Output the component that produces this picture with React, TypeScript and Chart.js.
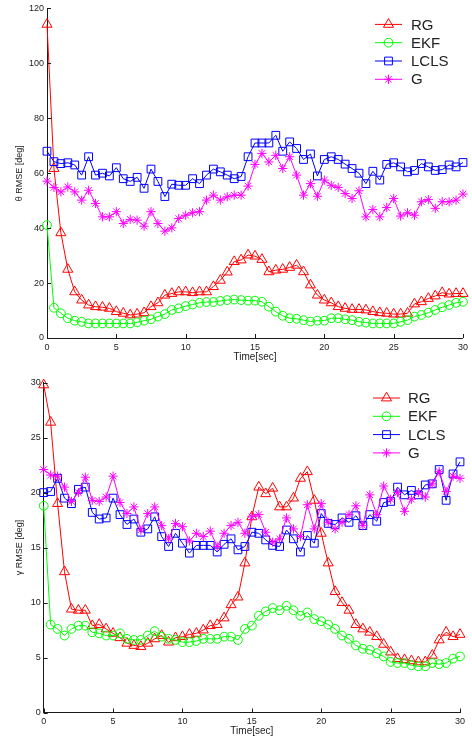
import React, { useEffect, useRef } from "react";
import { Chart, registerables } from "chart.js";
import { drawPoint } from "chart.js/helpers";

Chart.register(...registerables);

const times = [
  0, 0.5, 1, 1.5, 2, 2.5, 3, 3.5, 4, 4.5, 5, 5.5, 6, 6.5, 7, 7.5, 8, 8.5, 9, 9.5,
  10, 10.5, 11, 11.5, 12, 12.5, 13, 13.5, 14, 14.5, 15, 15.5, 16, 16.5, 17, 17.5, 18, 18.5, 19, 19.5,
  20, 20.5, 21, 21.5, 22, 22.5, 23, 23.5, 24, 24.5, 25, 25.5, 26, 26.5, 27, 27.5, 28, 28.5, 29, 29.5, 30,
];

const seriesNames = ["RG", "EKF", "LCLS", "G"];

// theta RMSE [deg]
const thetaRG = [
  114.2, 61.7, 38.3, 25, 16.8, 13.8, 12, 11.4, 11.2, 10.8,
  9.6, 9, 8.4, 8.7, 9.2, 11.4, 12.8, 15.6, 16.2, 16.8,
  16.8, 16.5, 16.8, 16.8, 18.7, 21, 24, 27.8, 28.4, 30.2,
  29.8, 28.6, 24.1, 24.7, 25, 25.7, 26.5, 24.1, 19.3, 15.6,
  13.8, 12.8, 11.4, 10.8, 10.4, 10.4, 10.2, 9.6, 9.2, 9,
  8.7, 8.7, 9, 12.4, 13.2, 14.4, 15.3, 16.5, 16, 16.2,
  16.2,
];
const thetaEKF = [
  41.1, 11, 9, 7.2, 6.3, 5.9, 5.3, 5.3, 5.3, 5.3,
  5.3, 5.3, 5.3, 5.7, 6.3, 6.8, 7.8, 8.7, 10.2, 10.8,
  11.6, 12.2, 12.8, 13.1, 13.1, 13.5, 13.8, 14, 13.8, 13.6,
  13.6, 13.2, 11.4, 9.6, 8.1, 7.2, 7.0, 6.5, 6.0, 6.3,
  6.3, 7.2, 7.2, 6.8, 6.5, 5.9, 5.6, 5.3, 5.3, 5.3,
  5.3, 5.9, 6.5, 7.8, 8.4, 9.2, 10.2, 11.2, 12, 12.8,
  13.2,
];
const thetaLCLS = [
  68, 64.2, 63.5, 63.8, 63, 59.3, 66, 59.3, 60, 59,
  62, 58, 57, 58.5, 54.5, 61.5, 57, 51.5, 56, 55.6,
  55.6, 58, 56.2, 59.3, 61.5, 60.5, 59.3, 58, 58.8, 66,
  71, 71, 71, 73.8, 68, 71.4, 69, 65, 67, 59,
  65, 66, 65, 63.3, 61.7, 60, 56.2, 60.7, 57.5, 63.2,
  63.8, 62.3, 60.5, 61, 63.5, 62.3, 61, 61.3, 63, 62.3,
  63.9,
];
const thetaG = [
  57.1, 54.8, 53.2, 55, 53.2, 50.2, 53.8, 49, 44.1, 44.1,
  46, 41.7, 43.2, 42.9, 40.7, 46, 41.7, 38.9, 40.1, 43.5,
  44.7, 45.6, 46, 50.2, 52, 50.2, 51.4, 52, 52, 55.3,
  63.2, 67.2, 64.1, 66.5, 61.7, 66, 59.3, 52, 56.2, 51.6,
  57.5, 55.6, 54.8, 52.6, 50.8, 53.6, 44.1, 46.8, 44.1, 47.5,
  50.8, 44.4, 45.6, 44.7, 49.6, 50.4, 47.2, 49.6, 49.6, 50.2,
  52.4,
];

// gamma RMSE [deg]
const gammaRG = [
  29.8, 26.4, 19, 12.8, 9.4, 9.3, 9.3, 7.9, 8, 7.6,
  7.2, 6.8, 6.3, 6.1, 6, 6.3, 6.7, 7, 6.4, 6.8,
  6.9, 7.1, 7.2, 7.5, 7.9, 8, 8.6, 9.8, 10.5, 13.6,
  17.8, 20.5, 19.9, 20.4, 18.7, 18.7, 19.5, 21.3, 21.9, 19.3,
  16.3, 13.6, 11, 10, 9.3, 8, 7.6, 7.3, 6.9, 6.2,
  5.5, 4.9, 4.8, 4.7, 4.6, 4.6, 5.2, 6.6, 7.3, 6.9,
  7.1,
];
const gammaEKF = [
  18.8, 8, 7.6, 7, 7.6, 7.9, 7.9, 7.3, 7.2, 7,
  7, 7.2, 6.7, 6.6, 6.6, 7, 7.4, 6.9, 6.7, 6.6,
  6.4, 6.4, 6.5, 6.7, 6.7, 6.7, 6.9, 6.9, 6.6, 7.6,
  7.9, 8.8, 9.2, 9.5, 9.3, 9.7, 9.3, 8.8, 9.1, 8.5,
  8.3, 8, 7.6, 7, 6.7, 6.1, 5.8, 5.7, 5.4, 5.1,
  4.6, 4.5, 4.5, 4.3, 4.2, 4.2, 4.5, 4.4, 4.5, 4.9,
  5.1,
];
const gammaLCLS = [
  20, 20.1, 21.3, 19.5, 19, 20.3, 20.5, 18.2, 17.6, 17.7,
  19.5, 18, 17.1, 17.6, 16.4, 16.7, 17.8, 16, 15.1, 16.3,
  15.4, 14.5, 15.2, 15.2, 15.2, 14.6, 15.3, 15.8, 14.8, 15.1,
  16.4, 16.3, 15.7, 15.2, 15.1, 16.6, 15.8, 14.6, 16.1, 15.4,
  18.1, 17.2, 17.1, 17.7, 17.3, 17.9, 17, 18, 17.4, 19.1,
  19.2, 20.5, 19.8, 20.2, 19.8, 20.7, 20.8, 22.1, 19.3, 21.7,
  22.8,
];
const gammaG = [
  22.1, 21.6, 21.5, 20.5, 19.2, 20, 21.4, 19.3, 19.2, 19.6,
  21.5, 19.1, 18.1, 18.7, 16.6, 18.1, 18.7, 17, 15.8, 17.2,
  16.9, 15.6, 16.3, 16, 16.5, 15.1, 16.3, 17, 17.3, 16.3,
  17.8, 18, 16.4, 15.5, 15.8, 17.7, 16.7, 16, 18.9, 16.7,
  19, 17.3, 16.7, 17.3, 18, 18.8, 17, 19.8, 18, 20.6,
  19.4, 20, 18.3, 19.4, 20, 19.6, 20.8, 21.9, 20.1, 21.5,
  21.3,
];

const xTickStep = 5;
const thetaMax = 120;
const thetaStep = 20;
const gammaMax = 30;
const gammaStep = 5;

const styles = [
  { color: "#ff0000", pointStyle: "triangle", radius: 5.8 },
  { color: "#00ff00", pointStyle: "circle", radius: 4.4 },
  { color: "#0000ff", pointStyle: "rect", radius: 5.5 },
  { color: "#ff00ff", pointStyle: "star", radius: 4.6 },
];

const FONT = "'Liberation Sans', Arial, Helvetica, sans-serif";
const TEXT = "#222";
const AXIS = "#1a1a1a";

const inwardTicks = {
  id: "inwardTicks",
  afterDatasetsDraw(chart: any) {
    const { ctx, chartArea, scales } = chart;
    ctx.save();
    ctx.strokeStyle = AXIS;
    ctx.lineWidth = 1;
    scales.x.ticks.forEach((t: any) => {
      const px = Math.round(scales.x.getPixelForValue(t.value)) + 0.5;
      ctx.beginPath();
      ctx.moveTo(px, chartArea.bottom);
      ctx.lineTo(px, chartArea.bottom - 4);
      ctx.stroke();
    });
    scales.y.ticks.forEach((t: any) => {
      const py = Math.round(scales.y.getPixelForValue(t.value)) + 0.5;
      ctx.beginPath();
      ctx.moveTo(chartArea.left, py);
      ctx.lineTo(chartArea.left + 4, py);
      ctx.stroke();
    });
    ctx.restore();
  },
};

function makeLegend(topOff: number, lineStart: number, lineEnd: number, textOff: number) {
  return {
    id: "boxLegend",
    afterDraw(chart: any) {
      const { ctx, chartArea } = chart;
      ctx.save();
      chart.data.datasets.forEach((ds: any, i: number) => {
        const y = chartArea.top + topOff + i * 18.3;
        const x1 = chartArea.right - lineStart;
        const x2 = chartArea.right - lineEnd;
        ctx.strokeStyle = ds.borderColor;
        ctx.lineWidth = 1;
        ctx.beginPath();
        ctx.moveTo(x1, y);
        ctx.lineTo(x2, y);
        ctx.stroke();
        ctx.fillStyle = "rgba(0,0,0,0)";
        drawPoint(ctx, { pointStyle: ds.pointStyle, radius: ds.pointRadius, rotation: 0, borderWidth: 1 }, (x1 + x2) / 2, y);
        ctx.fillStyle = TEXT;
        ctx.font = `15px ${FONT}`;
        ctx.textAlign = "left";
        ctx.textBaseline = "middle";
        ctx.fillText(ds.label, chartArea.right - textOff, y + 1);
      });
      ctx.restore();
    },
  };
}

function buildConfig(
  series: number[][],
  yMax: number,
  yStep: number,
  yTitle: string,
  yWidth: number,
  xHeight: number,
  padTop: number,
  padRight: number,
  xTitlePad: number,
  legend: any
): any {
  return {
    type: "line",
    data: {
      datasets: series.map((vals, i) => ({
        label: seriesNames[i],
        data: times.map((t, k) => ({ x: t, y: vals[k] })),
        borderColor: styles[i].color,
        backgroundColor: "rgba(0,0,0,0)",
        pointBorderColor: styles[i].color,
        pointBackgroundColor: "rgba(0,0,0,0)",
        pointStyle: styles[i].pointStyle,
        pointRadius: styles[i].radius,
        pointBorderWidth: 1,
        borderWidth: 1,
        tension: 0,
        fill: false,
        clip: false,
        order: 4 - i,
      })),
    },
    options: {
      responsive: false,
      animation: false,
      events: [],
      layout: { padding: { top: padTop, right: padRight, left: 0, bottom: 0 } },
      plugins: { legend: { display: false }, tooltip: { enabled: false } },
      scales: {
        x: {
          type: "linear",
          min: 0,
          max: 30,
          grid: { display: false, drawTicks: false },
          border: { display: true, color: AXIS, width: 1 },
          ticks: { stepSize: xTickStep, color: TEXT, font: { family: FONT, size: 9 }, padding: 4, maxRotation: 0 },
          title: { display: true, text: "Time[sec]", color: TEXT, font: { family: FONT, size: 10 }, padding: { top: 0, bottom: xTitlePad } },
          afterFit: (s: any) => {
            s.height = xHeight;
          },
        },
        y: {
          type: "linear",
          min: 0,
          max: yMax,
          grid: { display: false, drawTicks: false },
          border: { display: true, color: AXIS, width: 1 },
          ticks: { stepSize: yStep, color: TEXT, font: { family: FONT, size: 9 }, padding: 3 },
          title: { display: true, text: yTitle, color: TEXT, font: { family: FONT, size: 9 }, padding: { top: 14, bottom: 0 } },
          afterFit: (s: any) => {
            s.width = yWidth;
          },
        },
      },
    },
    plugins: [inwardTicks, legend],
  };
}

function ChartCanvas({ config, height }: { config: () => any; height: number }) {
  const ref = useRef<HTMLCanvasElement | null>(null);
  useEffect(() => {
    if (!ref.current) return;
    const chart = new Chart(ref.current, config());
    return () => chart.destroy();
  }, []);
  return <canvas ref={ref} width={472} height={height} style={{ display: "block", width: 472, height }} />;
}

export default function App() {
  return (
    <div style={{ position: "absolute", left: 0, top: 0, width: 472, height: 739, background: "#fff" }}>
      <ChartCanvas
        height={370}
        config={() =>
          buildConfig(
            [thetaRG, thetaEKF, thetaLCLS, thetaG],
            thetaMax,
            thetaStep,
            "θ RMSE [deg]",
            47,
            32,
            8.3,
            9,
            7,
            makeLegend(16, 88, 61, 52)
          )
        }
      />
      <ChartCanvas
        height={369}
        config={() =>
          buildConfig(
            [gammaRG, gammaEKF, gammaLCLS, gammaG],
            gammaMax,
            gammaStep,
            "γ RMSE [deg]",
            43.7,
            26.5,
            12.7,
            12,
            2,
            makeLegend(15.3, 87, 60, 52)
          )
        }
      />
    </div>
  );
}
